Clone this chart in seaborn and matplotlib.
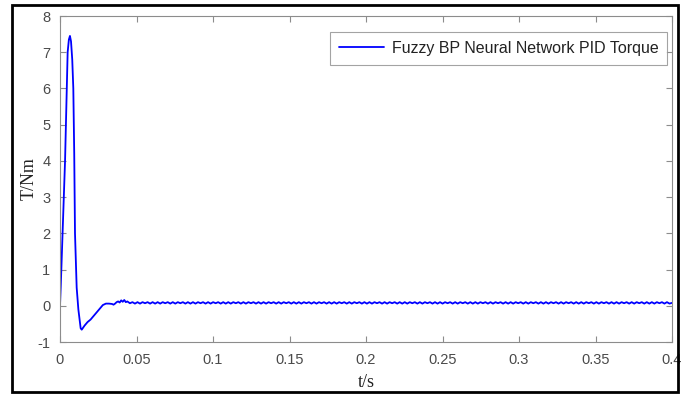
import numpy as np
import pandas as pd
import matplotlib
matplotlib.use("Agg")
import matplotlib.pyplot as plt
import seaborn as sns
from matplotlib.patches import Rectangle

# Transient part (time in s, torque in Nm)
t_transient = [0.0, 0.0005, 0.0015, 0.0025, 0.0033, 0.0042, 0.005, 0.0058, 0.0065,
               0.0072, 0.0080, 0.0087, 0.0093, 0.0098, 0.0104, 0.0109, 0.0120, 0.0135,
               0.0142, 0.0160, 0.0180, 0.0200, 0.0220, 0.0240, 0.0260, 0.0280, 0.0300,
               0.0320, 0.0340, 0.0350, 0.0360, 0.0370, 0.0380, 0.0390, 0.0400, 0.0410,
               0.0420, 0.0430, 0.0440]
y_transient = [0.0, 0.55, 1.8, 3.0, 4.0, 5.6, 7.0, 7.35, 7.45,
               7.3, 6.8, 6.0, 4.2, 2.0, 1.2, 0.5, -0.1, -0.62,
               -0.66, -0.55, -0.45, -0.38, -0.28, -0.18, -0.08, 0.02, 0.06,
               0.06, 0.05, 0.03, 0.06, 0.10, 0.12, 0.09, 0.15, 0.11,
               0.16, 0.10, 0.12]

# Steady-state ripple
y_ripple = [
    0.07, 0.10, 0.06, 0.10, 0.06, 0.10, 0.07, 0.10, 0.06, 0.10, 0.06, 0.10,
    0.06, 0.10, 0.07, 0.10, 0.06, 0.10, 0.06, 0.10, 0.07, 0.10, 0.06, 0.10,
    0.06, 0.10, 0.06, 0.10, 0.07, 0.10, 0.06, 0.10, 0.06, 0.10, 0.07, 0.10,
    0.06, 0.10, 0.06, 0.10, 0.06, 0.10, 0.07, 0.10, 0.06, 0.10, 0.06, 0.10,
    0.07, 0.10, 0.06, 0.10, 0.06, 0.10, 0.06, 0.10, 0.07, 0.10, 0.06, 0.10,
    0.06, 0.10, 0.07, 0.10, 0.06, 0.10, 0.06, 0.10, 0.06, 0.10, 0.07, 0.10,
    0.06, 0.10, 0.06, 0.10, 0.07, 0.10, 0.06, 0.10, 0.06, 0.10, 0.06, 0.10,
    0.07, 0.10, 0.06, 0.10, 0.06, 0.10, 0.07, 0.10, 0.06, 0.10, 0.06, 0.10,
    0.06, 0.10, 0.07, 0.10, 0.06, 0.10, 0.06, 0.10, 0.07, 0.10, 0.06, 0.10,
    0.06, 0.10, 0.06, 0.10, 0.07, 0.10, 0.06, 0.10, 0.06, 0.10, 0.07, 0.10,
    0.06, 0.10, 0.06, 0.10, 0.06, 0.10, 0.07, 0.10, 0.06, 0.10, 0.06, 0.10,
    0.07, 0.10, 0.06, 0.10, 0.06, 0.10, 0.06, 0.10, 0.07, 0.10, 0.06, 0.10,
    0.06, 0.10, 0.07, 0.10, 0.06, 0.10, 0.06, 0.10, 0.06, 0.10, 0.07, 0.10,
    0.06, 0.10, 0.06, 0.10, 0.07, 0.10, 0.06, 0.10, 0.06, 0.10, 0.06, 0.10,
    0.07, 0.10, 0.06, 0.10, 0.06, 0.10, 0.07, 0.10, 0.06, 0.10, 0.06, 0.10,
    0.06, 0.10, 0.07, 0.10, 0.06, 0.10, 0.06, 0.10, 0.07, 0.10, 0.06, 0.10,
    0.06, 0.10, 0.06, 0.10, 0.07, 0.10, 0.06, 0.10, 0.06, 0.10, 0.07, 0.10,
    0.06, 0.10, 0.06, 0.10, 0.06, 0.10, 0.07, 0.10, 0.06, 0.10, 0.06, 0.08,
]
t_ripple = np.linspace(0.0457, 0.4, len(y_ripple))

series_name = "Fuzzy BP Neural Network PID Torque"
x_ticks = [0, 0.05, 0.1, 0.15, 0.2, 0.25, 0.3, 0.35, 0.4]
x_tick_labels = ["0", "0.05", "0.1", "0.15", "0.2", "0.25", "0.3", "0.35", "0.4"]
y_ticks = [-1, 0, 1, 2, 3, 4, 5, 6, 7, 8]

df = pd.DataFrame({
    "t": list(t_transient) + list(t_ripple),
    "T": list(y_transient) + list(y_ripple),
})
df["series"] = series_name

sns.set_theme(style="white")
plt.rcParams["font.family"] = ["Liberation Sans", "DejaVu Sans"]
plt.rcParams["axes.unicode_minus"] = False

fig = plt.figure(figsize=(6.85, 3.96), dpi=100)
ax = fig.add_axes([60 / 685, 1 - 342 / 396, 612 / 685, 326 / 396])

sns.lineplot(data=df, x="t", y="T", hue="series", palette=["#0000ff"],
             linewidth=1.3, ax=ax, sort=False, estimator=None)

ax.set_xlim(0, 0.4)
ax.set_ylim(-1, 8)
ax.set_xticks(x_ticks)
ax.set_xticklabels(x_tick_labels)
ax.set_yticks(y_ticks)

gray = "#4a4a4a"
for s in ax.spines.values():
    s.set_visible(True)
    s.set_color("#8c8c8c")
    s.set_linewidth(0.8)
ax.tick_params(direction="in", length=4, width=0.8, colors="#8c8c8c",
               labelcolor=gray, labelsize=10.5, top=True, right=True,
               bottom=True, left=True)
ax.tick_params(axis="x", pad=8)
ax.tick_params(axis="y", pad=7)

ax.set_xlabel("t/s", family=["Liberation Serif"], fontsize=13, color="#222222", labelpad=5)
ax.set_ylabel("T/Nm", family=["Liberation Serif"], fontsize=13, color="#222222")
ax.yaxis.set_label_coords(-0.037, 0.5)

leg = ax.legend(loc="upper right", fontsize=11.5, frameon=True, fancybox=False,
                edgecolor="#8c8c8c", borderpad=0.55, handlelength=2.8,
                handletextpad=0.5, borderaxespad=0,
                bbox_to_anchor=(0.992, 0.951))
leg.get_frame().set_linewidth(0.8)
for txt in leg.get_texts():
    txt.set_color("#222222")

# outer black frame
fig.patches.append(Rectangle((12 / 685, 4 / 396), 666 / 685, 387 / 396,
                             transform=fig.transFigure, fill=False,
                             edgecolor="black", linewidth=2))

fig.savefig("out.png", dpi=100)
